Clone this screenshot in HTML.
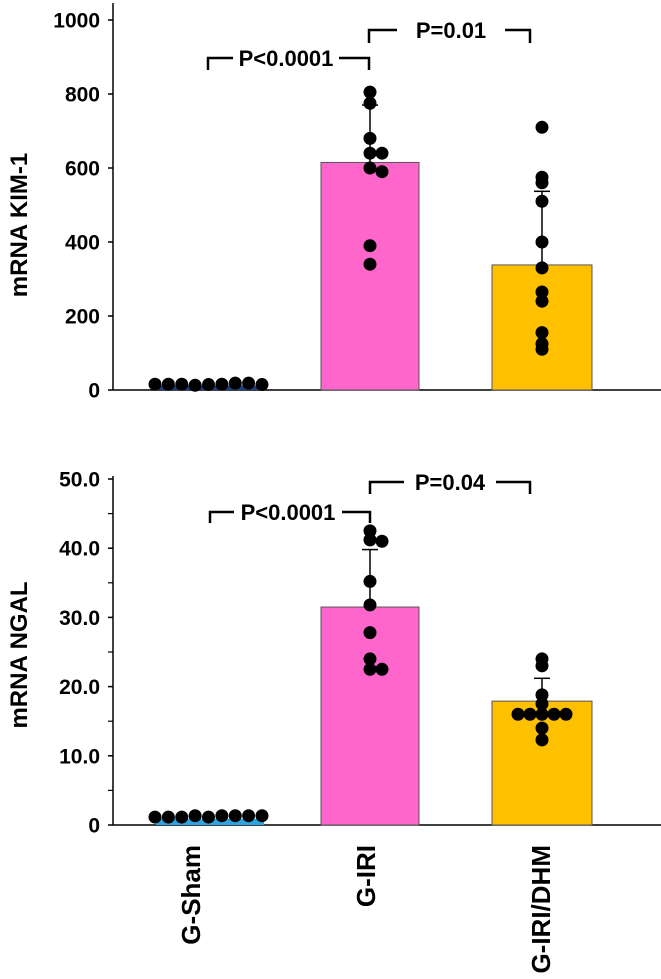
<!DOCTYPE html>
<html><head><meta charset="utf-8"><style>
html,body{margin:0;padding:0;background:#fff;}
svg{display:block;font-family:"Liberation Sans",Arial,sans-serif;font-weight:bold;}
</style></head><body>
<svg id="chart" width="661" height="979" viewBox="0 0 661 979" xmlns="http://www.w3.org/2000/svg"></svg>
<script>
const categories = ["G-Sham","G-IRI","G-IRI/DHM"];
const kimMeans = [12, 615, 338];
const kimErr = [4, 770, 537];
const kimSham = [13, 13, 13, 10, 12, 13, 16, 16, 12];
const kimIri = [805, 775, 680, 640, 640, 600, 590, 390, 340];
const kimDhm = [710, 575, 560, 510, 400, 330, 265, 240, 155, 125, 110];
const kimTicks = [0, 200, 400, 600, 800, 1000];
const ngalMeans = [0.9, 31.5, 17.9];
const ngalErr = [1.3, 39.8, 21.2];
const ngalSham = [1.0, 1.0, 1.0, 1.2, 1.0, 1.2, 1.2, 1.2, 1.2];
const ngalIri = [42.5, 41.2, 41.0, 35.2, 31.8, 27.8, 24.0, 22.5, 22.5];
const ngalDhm = [24.0, 23.0, 18.8, 17.5, 16.0, 16.0, 16.0, 16.0, 16.0, 14.0, 12.3];
const ngalTicks = [0, 10, 20, 30, 40, 50];
const ngalTickLabels = ["0", "10.0", "20.0", "30.0", "40.0", "50.0"];
const kimTickLabels = ["0", "200", "400", "600", "800", "1000"];

const NS = "http://www.w3.org/2000/svg";
const svg = document.getElementById('chart');
function mk(tag, attrs, parent, name, txt){
  const e = document.createElementNS(NS, tag);
  for (const k in attrs) e.setAttribute(k, attrs[k]);
  
  
  if (txt !== undefined) e.textContent = txt;
  (parent || svg).appendChild(e);
  return e;
}
const barX = [[156, 264], [321, 419], [492, 592]];
const colors = ["#1F3F80", "#FF66CC", "#FFC000"];

function panel(cfg){
  const g = mk('g', {}, svg, cfg.name);
  const y = v => cfg.y0 - (v / cfg.max) * (cfg.y0 - cfg.yTop);
  mk('line', {x1:113, y1:cfg.axTop, x2:113, y2:cfg.y0, stroke:'#000','stroke-width':1.5}, g, 'y-axis');
  mk('line', {x1:113, y1:cfg.y0, x2:661, y2:cfg.y0, stroke:'#000','stroke-width':1.5}, g, 'x-axis');
  cfg.ticks.forEach((t,i)=>{
    mk('line', {x1:108, y1:y(t), x2:113, y2:y(t), stroke:'#000','stroke-width':1.5}, g, 'y-tick');
    mk('text', {x:100, y:y(t)+7.5, 'text-anchor':'end','font-size':21}, g, 'y-tick-label', cfg.labels[i]);
  });
  if (cfg.minor) cfg.ticks.slice(0,-1).forEach(t=>{
    const m = t + cfg.minor;
    mk('line', {x1:108, y1:y(m), x2:113, y2:y(m), stroke:'#000','stroke-width':1.2}, g, 'y-minor-tick');
  });
  mk('text', {x:0, y:0, transform:`translate(27,${cfg.titleY}) rotate(-90)`, 'text-anchor':'middle','font-size':24}, g, 'y-axis-title', cfg.title);
  cfg.means.forEach((m,i)=>{
    const top = y(m);
    mk('rect', {x:barX[i][0], y:top, width:barX[i][1]-barX[i][0], height:cfg.y0-top, fill: (i===0?cfg.shamColor:colors[i]), stroke: i===0?'none':'#555','stroke-width':1}, g, 'bar-'+categories[i].toLowerCase().replace(/\//g,'-'));
    const c = (barX[i][0]+barX[i][1])/2;
    if (i>0){
      mk('line', {x1:c, y1:top, x2:c, y2:y(cfg.err[i]), stroke:'#000','stroke-width':1.5}, g, 'error-bar');
      mk('line', {x1:c-8, y1:y(cfg.err[i]), x2:c+8, y2:y(cfg.err[i]), stroke:'#000','stroke-width':1.5}, g, 'error-cap');
    }
  });
  cfg.sham.forEach((v,i)=>{
    const x = 155 + i*(262-155)/(cfg.sham.length-1);
    mk('circle', {cx:x, cy:y(v)-1, r:6.5, fill:'#000'}, g, 'dot-g-sham');
  });
  [cfg.iri, cfg.dhm].forEach((arr,k)=>{
    const c = (barX[k+1][0]+barX[k+1][1])/2;
    const placed = [];
    arr.forEach(v=>{
      const py = y(v);
      let off = 0;
      const near = placed.filter(p=>Math.abs(p.y-py)<4);
      if (near.length===1) off = 12; else if (near.length===2) off = -12; else if (near.length>=3) off = (near.length%2? 24:-24);
      placed.push({y:py});
      mk('circle', {cx:c+off, cy:py, r:6.5, fill:'#000'}, g, k===0?'dot-g-iri':'dot-g-iri-dhm');
    });
  });
  cfg.brackets.forEach(b=>{
    mk('path', {d:`M${b.x1},${b.yEnd1} V${b.y} H${b.t1} M${b.t2},${b.y} H${b.x2} V${b.yEnd2}`, fill:'none', stroke:'#000','stroke-width':2.5}, g, 'significance-bracket');
    mk('text', {x:(b.t1+b.t2)/2, y:b.y+8, 'text-anchor':'middle','font-size':22}, g, 'p-value-label', b.label);
  });
}

panel({name:'kim1-panel', y0:390, yTop:20, axTop:3, max:1000, ticks:kimTicks, labels:kimTickLabels, title:'mRNA KIM-1', titleY:225,
  means:kimMeans, err:kimErr, sham:kimSham, iri:kimIri, dhm:kimDhm, shamColor:'#1F3F80', minor:0,
  brackets:[{x1:208,x2:369,y:58,yEnd1:70,yEnd2:70,t1:233,t2:339,label:'P<0.0001'},
            {x1:369,x2:530,y:30,yEnd1:43,yEnd2:43,t1:397,t2:505,label:'P=0.01'}]});
panel({name:'ngal-panel', y0:825, yTop:479, axTop:476, max:50, ticks:ngalTicks, labels:ngalTickLabels, title:'mRNA NGAL', titleY:655,
  means:ngalMeans, err:ngalErr, sham:ngalSham, iri:ngalIri, dhm:ngalDhm, shamColor:'#2FA3E0', minor:5,
  brackets:[{x1:210,x2:370,y:512,yEnd1:523,yEnd2:523,t1:234,t2:342,label:'P<0.0001'},
            {x1:370,x2:530,y:482,yEnd1:494,yEnd2:494,t1:404,t2:496,label:'P=0.04'}]});

const labX = [200, 375, 550];
categories.forEach((c,i)=>{
  const t = document.createElementNS(NS,'text');
  t.setAttribute('transform', `translate(${labX[i]},845) rotate(-90)`);
  t.setAttribute('text-anchor','end');
  t.setAttribute('font-size','26');
  t.textContent = c;
  
  
  svg.appendChild(t);
});
</script>
</body></html>
